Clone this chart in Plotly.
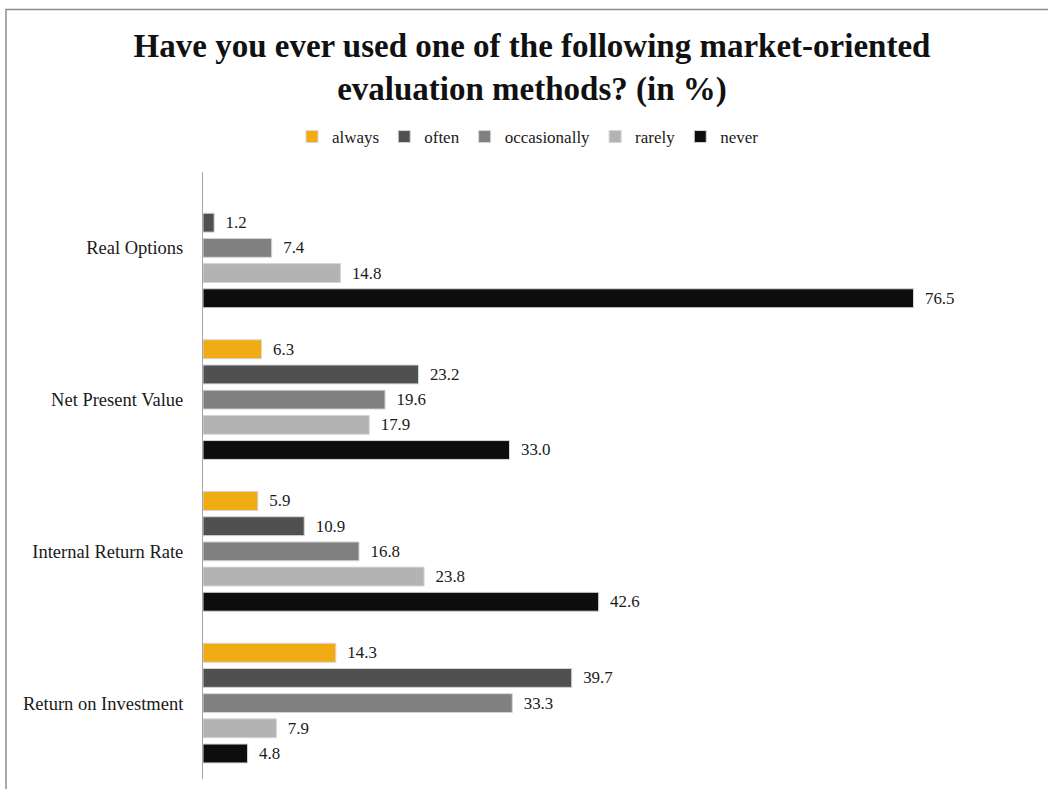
import plotly.graph_objects as go

# Survey: usage frequency of market-oriented evaluation methods (in %)
methods = ["Real Options", "Net Present Value", "Internal Return Rate", "Return on Investment"]
always = [None, 6.3, 5.9, 14.3]
often = [1.2, 23.2, 10.9, 39.7]
occasionally = [7.4, 19.6, 16.8, 33.3]
rarely = [14.8, 17.9, 23.8, 7.9]
never = [76.5, 33.0, 42.6, 4.8]

series = [
    ("always", always, "#F0AC12"),
    ("often", often, "#505050"),
    ("occasionally", occasionally, "#808080"),
    ("rarely", rarely, "#B3B3B3"),
    ("never", never, "#0D0D0D"),
]

FONT = "Liberation Serif"

fig = go.Figure()
for name, vals, color in series:
    fig.add_trace(go.Bar(
        y=methods,
        x=vals,
        name=name,
        orientation="h",
        marker=dict(color=color, line=dict(color="#d6d6d6", width=1)),
        texttemplate="\u00a0\u00a0%{x:.1f}",
        textposition="outside",
        textfont=dict(family=FONT, size=17, color="#1a1a1a"),
        cliponaxis=False,
    ))

W, H = 1048, 789
ML, MR, MT, MB = 203, 102, 172, 10
pw = W - ML - MR
ph = H - MT - MB

fig.update_layout(
    width=W,
    height=H,
    barmode="group",
    bargap=0.17,
    bargroupgap=0.25,
    paper_bgcolor="white",
    plot_bgcolor="white",
    margin=dict(l=ML, r=MR, t=MT, b=MB),
    font=dict(family=FONT, color="#1a1a1a"),
    title=dict(
        text="<b>Have you ever used one of the following market-oriented<br>evaluation methods? (in %)</b>",
        font=dict(family=FONT, size=33, color="#111111"),
        x=532 / W,
        xref="container",
        xanchor="center",
        y=1 - 57 / H,
        yanchor="middle",
    ),
    legend=dict(
        orientation="h",
        x=(528 - ML) / pw,
        xanchor="center",
        y=(H - MB - 137) / ph,
        yanchor="middle",
        font=dict(family=FONT, size=17),
        itemwidth=30,
        traceorder="normal",
    ),
    xaxis=dict(
        range=[0, 80],
        visible=False,
        showgrid=False,
        zeroline=False,
    ),
    yaxis=dict(
        autorange="reversed",
        showline=True,
        linecolor="#a6a6a6",
        linewidth=1,
        ticks="",
        ticklabelstandoff=15,
        tickfont=dict(family=FONT, size=18.5, color="#1a1a1a"),
        showgrid=False,
    ),
    shapes=[
        dict(
            type="rect",
            xref="paper",
            yref="paper",
            x0=(6 - ML) / pw,
            x1=(W + 20 - ML) / pw,
            y0=-(30) / ph,
            y1=(H - MB - 9.5) / ph,
            line=dict(color="#8c8c8c", width=1.5),
            layer="below",
        )
    ],
)

fig.write_html("out.html")
